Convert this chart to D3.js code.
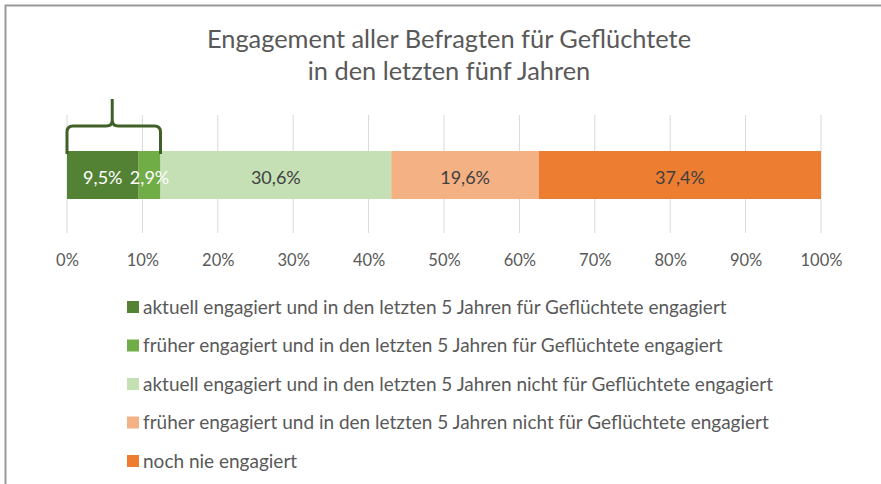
<!DOCTYPE html>
<html>
<head>
<meta charset="utf-8">
<script src="https://cdn.jsdelivr.net/npm/d3@7"></script>
<style>
  body { margin: 0; background: #fff; }
  text { font-family: Lato, "Open Sans", sans-serif; }
</style>
</head>
<body>
<div id="chart"></div>
<script>
// data
var categories = [
    "aktuell engagiert und in den letzten 5 Jahren für Geflüchtete engagiert",
    "früher engagiert und in den letzten 5 Jahren für Geflüchtete engagiert",
    "aktuell engagiert und in den letzten 5 Jahren nicht für Geflüchtete engagiert",
    "früher engagiert und in den letzten 5 Jahren nicht für Geflüchtete engagiert",
    "noch nie engagiert"
];
var values = [9.5, 2.9, 30.6, 19.6, 37.4];
var labelText = ["9,5%", "2,9%", "30,6%", "19,6%", "37,4%"];
var ticks = [0, 10, 20, 30, 40, 50, 60, 70, 80, 90, 100];
var colors = ["#548235", "#70AD47", "#C5E0B4", "#F4B183", "#ED7D31"];
var labelColors = ["#fff", "#fff", "#404040", "#404040", "#404040"];
var titleLines = ["Engagement aller Befragten für Geflüchtete", "in den letzten fünf Jahren"];

var width = 881, height = 484;
var svg = d3.select("#chart").append("svg")
    .attr("width", width)
    .attr("height", height);

// frame (only top + left visible in the crop)
svg.append("path")
    .attr("d", "M5.5,484 V5.5 H881")
    .attr("fill", "none")
    .attr("stroke", "#9a9a9a")
    .attr("stroke-width", 2);

// title
svg.append("text")
    .attr("x", 449)
    .attr("y", 48)
    .attr("text-anchor", "middle")
    .attr("fill", "#595959")
    .style("font-size", "25.4px")
    .selectAll("tspan")
    .data(titleLines)
    .enter().append("tspan")
    .attr("x", 449)
    .attr("dy", (d, i) => i === 0 ? 0 : 32)
    .text(d => d);

var x = d3.scaleLinear().domain([0, 100]).range([67, 821]);
var barTop = 151, barH = 48;

// gridlines
svg.selectAll("line.grid")
    .data(ticks)
    .enter().append("line")
    .attr("class", "grid")
    .attr("x1", d => x(d)).attr("x2", d => x(d))
    .attr("y1", 115).attr("y2", 233)
    .attr("stroke", "#d9d9d9")
    .attr("stroke-width", 1);

// stacked bar
var starts = [];
values.reduce((acc, v, i) => { starts[i] = acc; return acc + v; }, 0);

svg.selectAll("rect.seg")
    .data(values)
    .enter().append("rect")
    .attr("class", "seg")
    .attr("x", (d, i) => x(starts[i]))
    .attr("y", barTop)
    .attr("width", (d, i) => x(starts[i] + d) - x(starts[i]))
    .attr("height", barH)
    .attr("fill", (d, i) => colors[i]);

svg.selectAll("text.seglabel")
    .data(values)
    .enter().append("text")
    .attr("class", "seglabel")
    .attr("x", (d, i) => x(starts[i] + d / 2))
    .attr("y", barTop + barH / 2 + 9)
    .attr("text-anchor", "middle")
    .attr("fill", (d, i) => labelColors[i])
    .style("font-size", "18px")
    .text((d, i) => labelText[i]);

// brace over the first two segments
var bx0 = x(0), bx1 = x(values[0] + values[1]), bm = x(6);
var brace = d3.path();
brace.moveTo(bx0, 154);
brace.lineTo(bx0, 132);
brace.quadraticCurveTo(bx0, 126, bx0 + 6, 126);
brace.lineTo(bm - 6, 126);
brace.quadraticCurveTo(bm, 126, bm, 120);
brace.lineTo(bm, 99);
brace.moveTo(bm, 120);
brace.quadraticCurveTo(bm, 126, bm + 6, 126);
brace.lineTo(bx1 - 6, 126);
brace.quadraticCurveTo(bx1, 126, bx1, 132);
brace.lineTo(bx1, 154);
svg.append("path")
    .attr("d", brace.toString())
    .attr("fill", "none")
    .attr("stroke", "#3f6127")
    .attr("stroke-width", 3);

// x axis labels
var axis = d3.axisBottom(x)
    .tickValues(ticks)
    .tickFormat(d => d + "%")
    .tickSize(0)
    .tickPadding(0);
var gAxis = svg.append("g")
    .attr("transform", "translate(0,254)")
    .call(axis);
gAxis.select(".domain").remove();
gAxis.selectAll("text")
    .attr("fill", "#595959")
    .style("font-size", "16.5px")
    .style("font-family", "Lato, sans-serif");

// legend
var legend = svg.selectAll("g.legend")
    .data(categories)
    .enter().append("g")
    .attr("class", "legend")
    .attr("transform", (d, i) => "translate(127," + (307 + i * 38.5) + ")");
legend.append("rect")
    .attr("x", 0).attr("y", -6)
    .attr("width", 12).attr("height", 12)
    .attr("fill", (d, i) => colors[i]);
legend.append("text")
    .attr("x", 16)
    .attr("y", 6.5)
    .attr("fill", "#595959")
    .style("font-size", "19px")
    .text(d => d);
</script>
</body>
</html>
